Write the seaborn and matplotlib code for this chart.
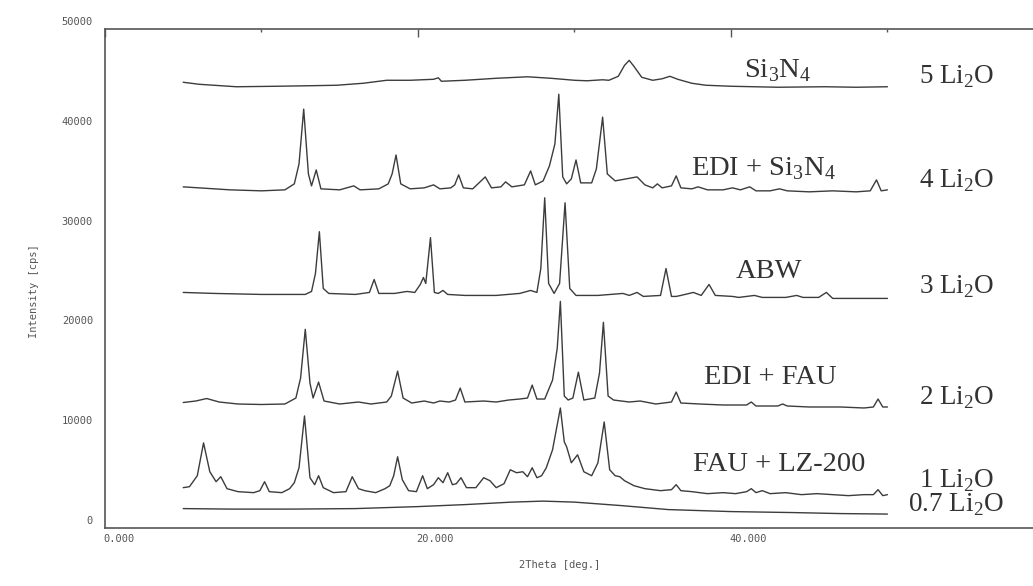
import numpy as np
import pandas as pd
import matplotlib
matplotlib.use("Agg")
import matplotlib.pyplot as plt
import matplotlib.transforms as mtransforms
from matplotlib.ticker import FixedLocator
import seaborn as sns

# ---- XRD patterns (2theta in degrees, intensity in cps, stacked) ----
tt_07 = [5, 8, 12, 16, 20, 23, 26, 28, 30, 33, 36, 40, 44, 47, 50]
cps_07 = [1900, 1850, 1850, 1900, 2100, 2300, 2550, 2650, 2550, 2200, 1800, 1600, 1500, 1400, 1350]

tt_1 = [5.0, 5.4, 5.9, 6.3, 6.7, 7.1, 7.4, 7.8, 8.5, 9.5, 9.9, 10.2, 10.5, 11.3, 11.8, 12.1, 12.4,
        12.75, 13.1, 13.4, 13.65, 13.95, 14.6, 15.4, 15.8, 16.2, 16.6, 17.3, 17.9, 18.2, 18.45, 18.7,
        19.0, 19.4, 19.9, 20.3, 20.6, 21.0, 21.3, 21.6, 21.9, 22.2, 22.45, 22.75, 23.1, 23.7, 24.2,
        24.6, 25.0, 25.5, 25.9, 26.3, 26.7, 27.0, 27.3, 27.6, 27.9, 28.2, 28.6, 29.1, 29.35, 29.5,
        29.8, 30.2, 30.6, 31.1, 31.5, 31.9, 32.25, 32.6, 32.9, 33.2, 33.8, 34.5, 35.5, 36.2, 36.5,
        36.8, 37.5, 38.5, 39.5, 40.3, 41.0, 41.3, 41.6, 42.0, 42.5, 43.5, 44.5, 45.5, 46.5, 47.5,
        48.5, 49.1, 49.4, 49.7, 50.0]
cps_1 = [4000, 4100, 5200, 8500, 5600, 4600, 5100, 3900, 3600, 3500, 3700, 4600, 3600, 3500, 3900, 4500, 6000,
         11200, 5000, 4300, 5200, 4000, 3500, 3600, 5100, 3900, 3700, 3500, 3900, 4200, 5200, 7100,
         4800, 3700, 3600, 5200, 3900, 4300, 5000, 4500, 5500, 4300, 4400, 5000, 4000, 4000, 5000,
         4700, 4000, 4400, 5800, 5500, 5600, 5100, 6000, 5000, 5200, 6000, 7800, 12000, 8600, 8100,
         6500, 7300, 5600, 5200, 6500, 10600, 5800, 5200, 5100, 4700, 4200, 3900, 3700, 3800, 4300,
         3700, 3600, 3400, 3500, 3400, 3600, 3900, 3500, 3700, 3400, 3500, 3300, 3400, 3300, 3200,
         3300, 3300, 3800, 3200, 3300]

tt_2 = [5.0, 5.8, 6.5, 7.3, 8.5, 10, 11.5, 12.2, 12.5, 12.8, 13.1, 13.3, 13.65, 14.0, 15, 16.2, 17.0,
        18.0, 18.3, 18.7, 19.05, 19.6, 20.4, 21.0, 21.4, 22.0, 22.4, 22.7, 23.0, 24.2, 25.0, 25.8,
        26.5, 27.0, 27.3, 27.6, 28.1, 28.6, 28.9, 29.1, 29.35, 29.6, 29.9, 30.25, 30.6, 31.3, 31.6,
        31.85, 32.15, 32.5, 33.0, 33.5, 34.2, 35.2, 36.2, 36.5, 36.8, 38, 39.5, 41.0, 41.3, 41.6,
        43.0, 43.3, 43.6, 45, 47, 48.5, 49.1, 49.4, 49.7, 50]
cps_2 = [12550, 12700, 12950, 12600, 12400, 12350, 12400, 13000, 15000, 19900, 14500, 13000, 14600, 12700, 12400, 12600, 12400,
         12600, 13200, 15700, 13000, 12500, 12700, 12500, 12700, 12600, 12800, 14000, 12600, 12700, 12600, 12800,
         12900, 13000, 14300, 12900, 12900, 14800, 18000, 22700, 13200, 12800, 13000, 15600, 12800, 13000, 15500,
         20600, 13200, 12800, 12700, 12600, 12700, 12400, 12600, 13600, 12500, 12400, 12300, 12300, 12600, 12200,
         12200, 12400, 12200, 12100, 12100, 12000, 12100, 12900, 12100, 12100]

tt_3 = [5.0, 7, 10, 12.8, 13.2, 13.45, 13.7, 13.95, 14.3, 16.0, 16.9, 17.2, 17.5, 18.5, 19.3, 19.8,
        20.15, 20.35, 20.5, 20.8, 21.05, 21.3, 21.6, 21.9, 23, 25, 26.5, 27.2, 27.6, 27.85, 28.1,
        28.35, 28.7, 29.05, 29.4, 29.7, 30.1, 31.5, 33.1, 33.5, 34.0, 34.4, 35.5, 35.85, 36.2, 36.5,
        36.8, 37.6, 38.1, 38.6, 39.0, 40.1, 40.5, 41.5, 42.0, 43.5, 44.2, 44.6, 45.6, 46.1, 46.5, 48, 50]
cps_3 = [23600, 23500, 23400, 23400, 23700, 25500, 29700, 24000, 23500, 23400, 23600, 24900, 23500, 23500, 23700, 23600,
         24400, 25100, 24500, 29100, 23600, 23500, 23800, 23400, 23300, 23300, 23500, 23800, 23600, 26000, 33100,
         24500, 23500, 24500, 32600, 24000, 23300, 23300, 23500, 23300, 23600, 23200, 23300, 26000, 23200, 23200,
         23300, 23600, 23300, 24400, 23300, 23200, 23100, 23300, 23100, 23100, 23300, 23100, 23100, 23600, 23000, 23000, 23000]

tt_4 = [5.0, 6, 8, 10, 11.5, 12.1, 12.4, 12.7, 13.0, 13.2, 13.5, 13.8, 15.0, 15.9, 16.3, 17.5, 18.1,
        18.35, 18.6, 18.9, 19.5, 20.4, 21.0, 21.4, 22.1, 22.35, 22.6, 22.9, 23.5, 24.3, 24.7, 25.3,
        25.6, 26.0, 26.8, 27.2, 27.5, 28.0, 28.4, 28.75, 29.0, 29.25, 29.5, 29.8, 30.1, 30.4, 31.1,
        31.4, 31.8, 32.1, 32.6, 33.3, 34.0, 34.5, 35.0, 35.3, 35.6, 36.2, 36.5, 36.8, 37.5, 37.9,
        38.5, 39.5, 40.1, 40.6, 41.2, 41.6, 42.5, 43.1, 43.6, 45, 46.5, 48, 48.9, 49.3, 49.6, 50]
cps_4 = [34200, 34100, 33900, 33800, 33900, 34500, 36500, 42000, 35500, 34300, 35900, 34000, 33900, 34300, 33900, 34000, 34500,
         35500, 37400, 34500, 34000, 34100, 34400, 34000, 34100, 34400, 35400, 34100, 34000, 35200, 34100, 34200,
         34700, 34200, 34400, 35800, 34400, 34800, 36300, 38500, 43500, 35200, 34500, 35000, 36900, 34600, 34600,
         36000, 41200, 35500, 34800, 35000, 35200, 34400, 34100, 34500, 34100, 34300, 35300, 34100, 34000, 34200,
         33900, 33900, 34100, 33900, 34200, 33800, 33800, 34000, 33800, 33700, 33800, 33700, 33800, 34900, 33800, 33900]

tt_5 = [5.0, 6, 8.4, 11, 13, 14.8, 16.5, 18.0, 19.5, 21.0, 21.3, 21.5, 23, 25, 27.0, 28.5, 30.0, 30.8,
        31.8, 32.2, 32.8, 33.2, 33.5, 33.8, 34.3, 35.0, 35.6, 36.1, 36.6, 37.5, 38.4, 40, 43, 46, 48, 50]
cps_5 = [44700, 44500, 44250, 44300, 44350, 44400, 44600, 44900, 44900, 45000, 45150, 44800, 44900, 45100, 45250, 45100, 44900, 44850,
         44950, 44900, 45300, 46400, 46900, 46300, 45200, 44900, 45050, 45300, 45000, 44600, 44400, 44300, 44200, 44250, 44200, 44250]

series = [
    ("0.7 Li2O", tt_07, cps_07),
    ("1 Li2O", tt_1, cps_1),
    ("2 Li2O", tt_2, cps_2),
    ("3 Li2O", tt_3, cps_3),
    ("4 Li2O", tt_4, cps_4),
    ("5 Li2O", tt_5, cps_5),
]

# phase labels: (text, 2theta centre, intensity)
phase_labels = [
    (r"Si$_\mathregular{3}$N$_\mathregular{4}$", 43.0, 45900),
    (r"EDI + Si$_\mathregular{3}$N$_\mathregular{4}$", 42.1, 36000),
    ("ABW", 42.4, 25700),
    ("EDI + FAU", 42.5, 15100),
    ("FAU + LZ-200", 43.1, 6300),
]
# Li2O content labels at the right
content_labels = [
    (r"5 Li$_\mathregular{2}$O", 45300),
    (r"4 Li$_\mathregular{2}$O", 34800),
    (r"3 Li$_\mathregular{2}$O", 24200),
    (r"2 Li$_\mathregular{2}$O", 13000),
    (r"1 Li$_\mathregular{2}$O", 4700),
    (r"0.7 Li$_\mathregular{2}$O", 2300),
]

x_major = [0, 20, 40]
x_minor = [10, 30, 50]
x_ticklabels = ["0.000", "20.000", "40.000"]
y_major = [0, 10000, 20000, 30000, 40000, 50000]
y_minor = [5000, 15000, 25000, 35000, 45000]
y_ticklabels = ["0", "10000", "20000", "30000", "40000", "50000"]

sns.set_style("white")
plt.rcParams["font.family"] = ["DejaVu Sans Mono", "DejaVu Sans"]
plt.rcParams["mathtext.fontset"] = "custom"
plt.rcParams["mathtext.rm"] = "Liberation Serif"

fig = plt.figure(figsize=(10.33, 5.86), dpi=100)
ax = fig.add_axes([0.1016, 0.0998, 0.8984, 0.8499])

line_color = "#3c3c3c"
for name, tt, cps in series:
    df = pd.DataFrame({"tt": tt, "cps": cps})
    sns.lineplot(data=df, x="tt", y="cps", ax=ax, color=line_color, linewidth=1.0,
                 sort=False, estimator=None)

ax.set_xlim(0, 59.3)
ax.set_ylim(0, 50000)

spine_color = "#555555"
for side in ["left", "bottom", "top"]:
    ax.spines[side].set_color(spine_color)
    ax.spines[side].set_linewidth(1.2)
ax.spines["right"].set_visible(False)

ax.xaxis.set_major_locator(FixedLocator(x_major))
ax.xaxis.set_minor_locator(FixedLocator(x_minor))
ax.yaxis.set_major_locator(FixedLocator(y_major))
ax.yaxis.set_minor_locator(FixedLocator(y_minor))
ax.set_xticklabels(x_ticklabels)
ax.set_yticklabels(y_ticklabels)

ax.tick_params(axis="x", which="major", direction="in", length=5.8, width=1.0,
               color=spine_color, labelsize=7.5, labelcolor="#555555", pad=5, top=True)
ax.tick_params(axis="x", which="minor", direction="in", length=2.5, width=1.0,
               color=spine_color, top=True)
ax.tick_params(axis="y", which="major", direction="in", length=7.2, width=1.0,
               color=spine_color, labelsize=7.5, labelcolor="#555555", pad=8.6)
ax.tick_params(axis="y", which="minor", direction="in", length=3, width=1.0,
               color=spine_color)

for lab in ax.get_xticklabels():
    lab.set_horizontalalignment("left")
    lab.set_transform(lab.get_transform() + mtransforms.ScaledTranslation(-2 / 100, 0, fig.dpi_scale_trans))
for lab in ax.get_yticklabels():
    lab.set_transform(lab.get_transform() + mtransforms.ScaledTranslation(0, 8 / 100, fig.dpi_scale_trans))

ax.set_xlabel("2Theta [deg.]", fontsize=7.5, color="#555555")
ax.set_ylabel("Intensity [cps]", fontsize=7.5, color="#555555")
ax.xaxis.set_label_coords(0.49, -0.066)
ax.yaxis.set_label_coords(-0.071, 0.475)

serif = ["Liberation Serif", "DejaVu Serif"]
for text, xc, yc in phase_labels:
    ax.text(xc, yc, text, ha="center", va="center", fontsize=20.5, family=serif, color="#333333")
for text, yc in content_labels:
    ax.text(54.4, yc, text, ha="center", va="center", fontsize=19.5, family=serif, color="#333333")

ax.grid(False)
fig.savefig("out.png", dpi=100)
